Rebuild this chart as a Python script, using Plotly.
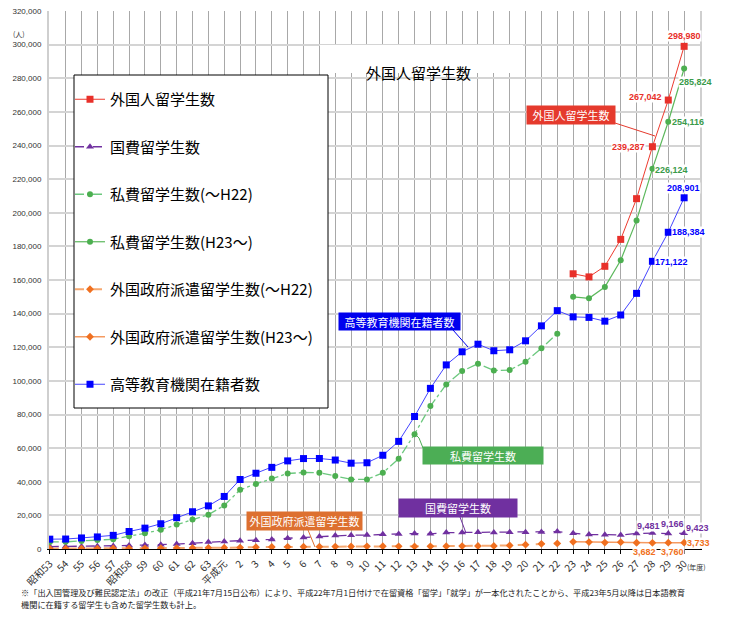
import plotly.graph_objects as go

# 年度ラベル（昭和53〜平成30）
years = ["昭和53", "54", "55", "56", "57", "昭和58", "59", "60", "61", "62", "63",
         "平成元", "2", "3", "4", "5", "6", "7", "8", "9", "10",
         "11", "12", "13", "14", "15", "16", "17", "18", "19", "20",
         "21", "22", "23", "24", "25", "26", "27", "28", "29", "30"]

# 外国人留学生数（H23〜）
total = [None] * 33 + [163697, 161848, 168145, 184155, 208379, 239287, 267042, 298980]

# 国費留学生数
kokuhi = [1424, 1484, 1519, 1575, 1798, 2082, 2345, 2502, 2911, 3458, 4118,
          4465, 4961, 5219, 5699, 6408, 6880, 7371, 8051, 8250, 8323,
          8774, 8930, 9173, 9009, 9746, 9804, 9891, 9869, 10020, 9923,
          10168, 10349, 9396, 8588, 8529, 8351, 9223, 9481, 9166, 9423]

# 私費留学生数
shihi_old = [4200, 4250, 4800, 5300, 5800, 7600, 9300, 11500, 14600, 17500, 20400,
             25900, 35200, 38700, 41900, 44900, 45500, 45400, 43400, 41400, 41400,
             45300, 53700, 68300, 85000, 97900, 105800, 110200, 106200, 106400, 111400,
             119400, 128100] + [None] * 8
shihi_new = [None] * 33 + [150016, 149132, 155769, 171767, 195435, 226124, 254116, 285824]

# 外国政府派遣留学生数
haken_old = [200, 220, 250, 280, 320, 380, 420, 500, 560, 620, 680,
             750, 850, 1100, 1200, 1300, 1350, 1400, 1450, 1500, 1600,
             1650, 1600, 1550, 1600, 1700, 1750, 1800, 1850, 2100, 2600,
             3100, 3300] + [None] * 8
haken_new = [None] * 33 + [4285, 4128, 3847, 4037, 3721, 3682, 3760, 3733]

# 高等教育機関在籍者数
koto = [5849, 5933, 6572, 7179, 8116, 10428, 12410, 15009, 18631, 22154, 25643,
        31251, 41347, 45066, 48561, 52405, 53787, 53847, 52921, 51047, 51298,
        55755, 64011, 78812, 95550, 109508, 117302, 121812, 117927, 118498, 123829,
        132720, 141774, 138075, 137756, 135519, 139185, 152062, 171122, 188384, 208901]

xs = list(range(len(years)))
JP = "Noto Sans CJK JP"

fig = go.Figure()


def add(name, y, lcolor, mcolor, symbol, dash, lw=1, ms=7):
    fig.add_trace(go.Scatter(
        x=xs, y=y, name=name, legendgroup=name, mode="lines+markers",
        line=dict(color=lcolor, width=lw, dash=dash),
        marker=dict(color=mcolor, symbol=symbol, size=ms),
        connectgaps=False,
    ))


add("外国人留学生数", total, "#ee3b2f", "#e8302a", "square", "solid")
add("国費留学生数", kokuhi, "#7030a0", "#7030a0", "triangle-up", "dash", 1.3)
add("私費留学生数(〜H22)", shihi_old, "#6cc87e", "#4caf50", "circle", "dashdot", 1.3, 6)
add("私費留学生数(H23〜)", shihi_new, "#5cb85c", "#4caf50", "circle", "solid", 1.2, 6)
add("外国政府派遣留学生数(〜H22)", haken_old, "#f6a870", "#f07020", "diamond", "dash", 2, 6)
add("外国政府派遣留学生数(H23〜)", haken_new, "#f59a60", "#f07020", "diamond", "solid", 1.5, 6)
add("高等教育機関在籍者数", koto, "#4545ff", "#0000ff", "square", "solid")


def px(v):
    return (v - 49) / 651


def py(v):
    return (549 - v) / 538


ann = []
shapes = []

# タイトル
shapes.append(dict(type="rect", xref="paper", yref="paper", x0=px(320), x1=px(523),
                   y0=py(73), y1=py(45), fillcolor="white", line=dict(width=0), layer="above"))
ann.append(dict(text="外国人留学生数", xref="paper", yref="paper", x=px(418), y=py(60),
                showarrow=False, font=dict(family=JP, size=15, color="black")))

# 凡例の枠
shapes.append(dict(type="rect", xref="paper", yref="paper", x0=px(74), x1=px(328),
                   y0=py(408), y1=py(75), fillcolor="white",
                   line=dict(color="black", width=1), layer="above"))

# 値ラベル
def lab(series, i, color, dx, dy):
    ann.append(dict(text="<b>{:,}</b>".format(series[i]), x=i, y=series[i], xref="x", yref="y",
                    showarrow=False, xshift=dx, yshift=dy, bgcolor="white", borderpad=0,
                    font=dict(family="Liberation Sans", size=9, color=color)))


lab(total, 38, "#e8302a", -24, 0)
lab(total, 39, "#e8302a", -23, 3)
lab(total, 40, "#e8302a", 0, 10)
lab(shihi_new, 38, "#3a9a4a", 19, -1)
lab(shihi_new, 39, "#3a9a4a", 20, 0)
lab(shihi_new, 40, "#3a9a4a", 11, -14)
lab(koto, 38, "#0000ff", 19, -1)
lab(koto, 39, "#0000ff", 20, 0)
lab(koto, 40, "#0000ff", -1, 10)
lab(kokuhi, 38, "#7030a0", -4, 7)
lab(kokuhi, 39, "#7030a0", 4, 10)
lab(kokuhi, 40, "#7030a0", 13, 5)
lab(haken_new, 38, "#f07020", -8, -9)
lab(haken_new, 39, "#f07020", 4, -9)
lab(haken_new, 40, "#f07020", 14, 0)

# 吹き出し
def box(text, cx, cy, w, h, bg, line):
    ann.append(dict(text=text, xref="paper", yref="paper", x=px(cx), y=py(cy),
                    xanchor="center", yanchor="middle", showarrow=False,
                    width=w, height=h, bgcolor=bg, borderpad=0,
                    font=dict(family=JP, size=11, color="white")))
    for (x0, y0), (x1, y1) in zip(line[:-1], line[1:]):
        shapes.append(dict(type="line", xref="paper", yref="paper",
                           x0=px(x0), y0=py(y0), x1=px(x1), y1=py(y1),
                           line=dict(color=bg, width=1), layer="above"))


box("外国人留学生数", 571, 115, 88, 18, "#e53a2d", [(615, 123), (655, 136)])
box("高等教育機関在籍者数", 399.5, 322, 121, 17, "#0000ee", [(453, 330), (468, 347)])
box("私費留学生数", 483, 455.5, 120, 17, "#4cae55", [(423, 448), (419, 438), (416, 435)])
box("国費留学生数", 458, 508, 118, 18, "#7030a0", [(460, 517), (466, 533)])
box("外国政府派遣留学生数", 304.5, 521, 115, 18, "#dd7030", [(308, 530), (315, 547)])

# 単位・注記
ann.append(dict(text="(人)", xref="paper", yref="paper", x=px(11), y=py(27), xanchor="left",
                showarrow=False, font=dict(family=JP, size=7, color="#333")))
ann.append(dict(text="(年度)", xref="paper", yref="paper", x=px(685), y=py(574), xanchor="left",
                showarrow=False, font=dict(family=JP, size=7, color="#333")))
ann.append(dict(text="※「出入国管理及び難民認定法」の改正（平成21年7月15日公布）により、平成22年7月1日付けで在留資格「留学」「就学」が一本化されたことから、平成23年5月以降は日本語教育",
                xref="paper", yref="paper", x=px(19), y=py(600), xanchor="left",
                showarrow=False, font=dict(family=JP, size=8.2, color="#222")))
ann.append(dict(text="機関に在籍する留学生も含めた留学生数も計上。",
                xref="paper", yref="paper", x=px(19), y=py(612), xanchor="left",
                showarrow=False, font=dict(family=JP, size=8.2, color="#222")))

fig.update_layout(
    width=730, height=626,
    margin=dict(l=49, r=30, t=11, b=77),
    plot_bgcolor="white", paper_bgcolor="white",
    font=dict(family=JP),
    showlegend=True,
    legend=dict(x=px(70), y=py(83), xanchor="left", yanchor="top",
                bgcolor="rgba(0,0,0,0)", borderwidth=0,
                font=dict(family=JP, size=15, color="black"),
                tracegroupgap=25, traceorder="grouped"),
    annotations=ann,
    shapes=shapes,
)

fig.update_xaxes(range=[-0.05, 41], tickmode="array", tickvals=xs, ticktext=years,
                 tickangle=-45, tickfont=dict(family=JP, size=10, color="#333"),
                 showgrid=True, gridcolor="#a8a8a8", gridwidth=1,
                 showline=True, linecolor="black", linewidth=1, automargin=False,
                 ticks="outside", ticklen=4, tickcolor="black", zeroline=False)
fig.update_yaxes(range=[0, 320000], dtick=20000, tickformat=",",
                 tickfont=dict(family="Liberation Sans", size=8, color="#333"),
                 showgrid=True, gridcolor="#d4d4d4", gridwidth=2, automargin=False,
                 showline=True, mirror=True, linecolor="#cfcfcf", linewidth=2,
                 zeroline=False, ticks="", ticklabelstandoff=4)

fig.write_html("out.html", config={"displayModeBar": False},
               post_script="document.body.style.margin='0';")
